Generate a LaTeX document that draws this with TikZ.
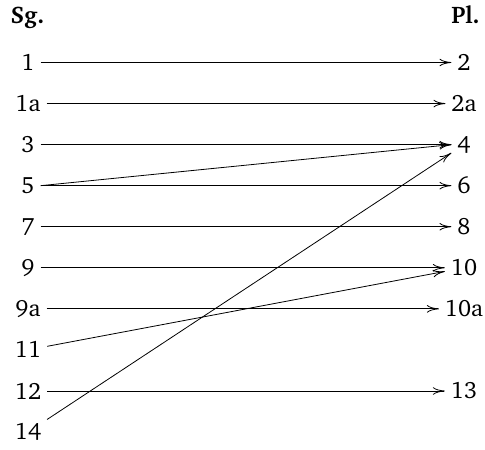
\documentclass[tikz,border=0pt]{standalone}
\usepackage[T1]{fontenc}
\usepackage{charter}
\usetikzlibrary{arrows.meta}
\begin{document}
\begin{tikzpicture}[x=0.5pt,y=-0.5pt,
  lbl/.style={inner sep=3pt,outer sep=0pt,font=\fontsize{11.8}{14}\selectfont},
  hd/.style={anchor=base,inner sep=0pt,font=\fontsize{12}{14}\selectfont\bfseries},
  conn/.style={line width=0.4pt,-{To[length=6pt,width=3.8pt]}}]
\useasboundingbox (0,0) rectangle (485,449);
\node[hd] (sg) at (27.5,24) {Sg.};
\node[hd] (pl) at (465.5,24) {Pl.};
\foreach \n/\t/\r in {l1/1/0,l1a/1a/1,l3/3/2,l5/5/3,l7/7/4,l9/9/5,l9a/9a/6,l11/11/7,l12/12/8,l14/14/9}
  \node[lbl] (\n) at (28,62.5+41.06*\r) {\t};
\foreach \n/\t/\r in {r2/2/0,r2a/2a/1,r4/4/2,r6/6/3,r8/8/4,r10/10/5,r10a/10a/6,r13/13/8}
  \node[lbl] (\n) at (464,62.5+41.06*\r) {\t};
\draw[conn] (l1.east) -- (r2.west);
\draw[conn] (l1a.east) -- (r2a.west);
\draw[conn] (l3.east) -- (r4.west);
\draw[conn] (l5.east) -- (r4.west);
\draw[conn] (l5.east) -- (r6.west);
\draw[conn] (l7.east) -- (r8.west);
\draw[conn] (l9.east) -- (r10.west);
\draw[conn] (l9a.east) -- (r10a.west);
\draw[conn] (l11) -- (r10);
\draw[conn] (l12.east) -- (r13.west);
\draw[conn] (l14) -- (r4);
\end{tikzpicture}
\end{document}
